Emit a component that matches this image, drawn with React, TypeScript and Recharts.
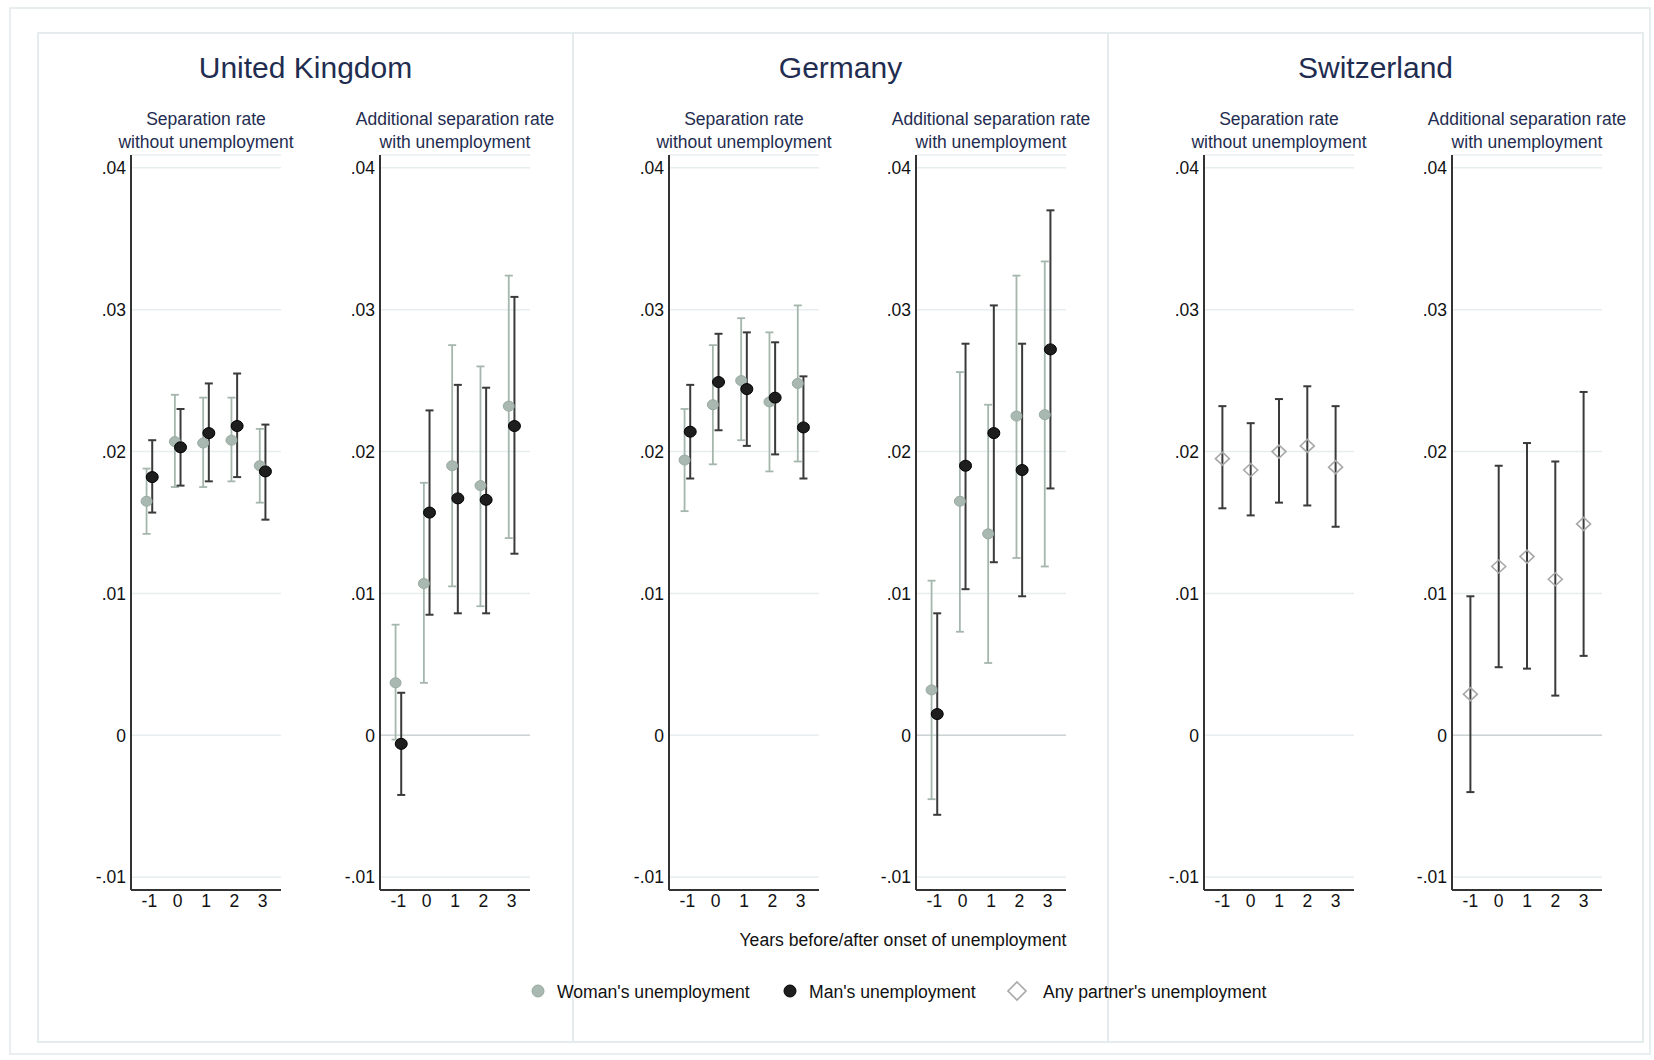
import { ScatterChart, Scatter, XAxis, YAxis, CartesianGrid, ErrorBar, ReferenceLine } from "recharts"

const years = [-1, 0, 1, 2, 3]
const yTicks = [-0.01, 0, 0.01, 0.02, 0.03, 0.04]

const countries = ["United Kingdom", "Germany", "Switzerland"]
const subtitleSep = ["Separation rate", "without unemployment"]
const subtitleAdd = ["Additional separation rate", "with unemployment"]
const legendLabels = ["Woman's unemployment", "Man's unemployment", "Any partner's unemployment"]
const xTitle = "Years before/after onset of unemployment"

// United Kingdom
const ukSepWomanEst = [0.0165, 0.0207, 0.0206, 0.0208, 0.019]
const ukSepWomanLo = [0.0142, 0.0175, 0.0175, 0.0179, 0.0164]
const ukSepWomanHi = [0.0188, 0.024, 0.0238, 0.0238, 0.0216]
const ukSepManEst = [0.0182, 0.0203, 0.0213, 0.0218, 0.0186]
const ukSepManLo = [0.0157, 0.0176, 0.0179, 0.0182, 0.0152]
const ukSepManHi = [0.0208, 0.023, 0.0248, 0.0255, 0.0219]

const ukAddWomanEst = [0.0037, 0.0107, 0.019, 0.0176, 0.0232]
const ukAddWomanLo = [-0.0003, 0.0037, 0.0105, 0.0091, 0.0139]
const ukAddWomanHi = [0.0078, 0.0178, 0.0275, 0.026, 0.0324]
const ukAddManEst = [-0.0006, 0.0157, 0.0167, 0.0166, 0.0218]
const ukAddManLo = [-0.0042, 0.0085, 0.0086, 0.0086, 0.0128]
const ukAddManHi = [0.003, 0.0229, 0.0247, 0.0245, 0.0309]

// Germany
const deSepWomanEst = [0.0194, 0.0233, 0.025, 0.0235, 0.0248]
const deSepWomanLo = [0.0158, 0.0191, 0.0208, 0.0186, 0.0193]
const deSepWomanHi = [0.023, 0.0275, 0.0294, 0.0284, 0.0303]
const deSepManEst = [0.0214, 0.0249, 0.0244, 0.0238, 0.0217]
const deSepManLo = [0.0181, 0.0215, 0.0204, 0.0198, 0.0181]
const deSepManHi = [0.0247, 0.0283, 0.0284, 0.0277, 0.0253]

const deAddWomanEst = [0.0032, 0.0165, 0.0142, 0.0225, 0.0226]
const deAddWomanLo = [-0.0045, 0.0073, 0.0051, 0.0125, 0.0119]
const deAddWomanHi = [0.0109, 0.0256, 0.0233, 0.0324, 0.0334]
const deAddManEst = [0.0015, 0.019, 0.0213, 0.0187, 0.0272]
const deAddManLo = [-0.0056, 0.0103, 0.0122, 0.0098, 0.0174]
const deAddManHi = [0.0086, 0.0276, 0.0303, 0.0276, 0.037]

// Switzerland
const chSepAnyEst = [0.0195, 0.0187, 0.02, 0.0204, 0.0189]
const chSepAnyLo = [0.016, 0.0155, 0.0164, 0.0162, 0.0147]
const chSepAnyHi = [0.0232, 0.022, 0.0237, 0.0246, 0.0232]

const chAddAnyEst = [0.0029, 0.0119, 0.0126, 0.011, 0.0149]
const chAddAnyLo = [-0.004, 0.0048, 0.0047, 0.0028, 0.0056]
const chAddAnyHi = [0.0098, 0.019, 0.0206, 0.0193, 0.0242]

const DODGE = 0.1
const PLOT_TOP = 155
const PLOT_H = 735
const PLOT_W = 150
const Y_W = 60
const M_TOP = 5
const X_H = 30

const WOMAN_FILL = "#a9b9b1"
const WOMAN_BAR = "#a5b6ad"
const MAN_FILL = "#1e1e1e"
const MAN_BAR = "#3a3a3a"
const NAVY = "#1f2d50"

function rows(est: number[], lo: number[], hi: number[], shift: number) {
  return years.map((yr, i) => ({ x: yr + shift, y: est[i], err: [est[i] - lo[i], hi[i] - est[i]] }))
}

const womanDot = (p: any) => (
  <ellipse cx={p.cx} cy={p.cy} rx={5.5} ry={5} fill={WOMAN_FILL} stroke="#98aaa1" strokeWidth={1} />
)
const manDot = (p: any) => (
  <ellipse cx={p.cx} cy={p.cy} rx={6} ry={5.5} fill={MAN_FILL} stroke="#000" strokeWidth={1} />
)
const diamond = (p: any) => (
  <polygon
    points={`${p.cx},${p.cy - 6.5} ${p.cx + 7},${p.cy} ${p.cx},${p.cy + 6.5} ${p.cx - 7},${p.cy}`}
    fill="none"
    stroke="#a8a8a8"
    strokeWidth={1.6}
  />
)

type Series = { data: any[]; shape: any; bar: string; barW: number }

function fmtY(v: number) {
  if (v === 0) return "0"
  return v.toFixed(2).replace("0.", ".")
}

function Panel({ axisX, series, zero }: { axisX: number; series: Series[]; zero?: boolean }) {
  return (
    <div style={{ position: "absolute", left: axisX - Y_W, top: PLOT_TOP - M_TOP }}>
      <ScatterChart
        width={Y_W + PLOT_W + 5}
        height={M_TOP + PLOT_H + X_H}
        margin={{ top: M_TOP, right: 5, left: 0, bottom: 0 }}
      >
        <CartesianGrid vertical={false} stroke="#e7eef0" strokeWidth={1.5} />
        <XAxis
          type="number"
          dataKey="x"
          domain={[-1.65, 3.65]}
          ticks={years}
          allowDataOverflow
          height={X_H}
          tickSize={0}
          tickMargin={5}
          axisLine={{ stroke: "#333", strokeWidth: 2 }}
          tick={{ fill: "#111", fontSize: 17.5 }}
        />
        <YAxis
          type="number"
          dataKey="y"
          domain={[-0.0109, 0.0409]}
          ticks={yTicks}
          allowDataOverflow
          width={Y_W}
          tickSize={0}
          tickMargin={5}
          tickFormatter={fmtY}
          axisLine={{ stroke: "#333", strokeWidth: 2 }}
          tick={{ fill: "#111", fontSize: 17.5 }}
        />
        {zero && <ReferenceLine y={0} stroke="#cdd4d6" strokeWidth={1.5} />}
        {series.map((s, i) => (
          <Scatter key={i} data={s.data} shape={s.shape} isAnimationActive={false}>
            <ErrorBar dataKey="err" direction="y" width={4} stroke={s.bar} strokeWidth={s.barW} />
          </Scatter>
        ))}
      </ScatterChart>
    </div>
  )
}

function pair(wEst: number[], wLo: number[], wHi: number[], mEst: number[], mLo: number[], mHi: number[]): Series[] {
  return [
    { data: rows(wEst, wLo, wHi, -DODGE), shape: womanDot, bar: WOMAN_BAR, barW: 1.8 },
    { data: rows(mEst, mLo, mHi, DODGE), shape: manDot, bar: MAN_BAR, barW: 2 },
  ]
}

const boxes = [38, 573, 1108, 1643]
const axisXs = [131, 380, 669, 916, 1204, 1452]

export default function App() {
  const panels = [
    pair(ukSepWomanEst, ukSepWomanLo, ukSepWomanHi, ukSepManEst, ukSepManLo, ukSepManHi),
    pair(ukAddWomanEst, ukAddWomanLo, ukAddWomanHi, ukAddManEst, ukAddManLo, ukAddManHi),
    pair(deSepWomanEst, deSepWomanLo, deSepWomanHi, deSepManEst, deSepManLo, deSepManHi),
    pair(deAddWomanEst, deAddWomanLo, deAddWomanHi, deAddManEst, deAddManLo, deAddManHi),
    [{ data: rows(chSepAnyEst, chSepAnyLo, chSepAnyHi, 0), shape: diamond, bar: MAN_BAR, barW: 2 }],
    [{ data: rows(chAddAnyEst, chAddAnyLo, chAddAnyHi, 0), shape: diamond, bar: MAN_BAR, barW: 2 }],
  ]

  return (
    <div
      style={{
        position: "absolute",
        left: 0,
        top: 0,
        width: 1654,
        height: 1060,
        background: "#fff",
        fontFamily: "'Liberation Sans', Arial, sans-serif",
      }}
    >
      <svg width={1654} height={1060} style={{ position: "absolute", left: 0, top: 0 }}>
        <rect x={10} y={8} width={1640} height={1046} fill="none" stroke="#e8eef0" strokeWidth={2} />
        {countries.map((c, i) => (
          <g key={c}>
            <rect
              x={boxes[i]}
              y={33}
              width={boxes[i + 1] - boxes[i]}
              height={1009}
              fill="none"
              stroke="#e4ecee"
              strokeWidth={2}
            />
            <text
              x={(boxes[i] + boxes[i + 1]) / 2}
              y={67}
              textAnchor="middle"
              dominantBaseline="central"
              fontSize={30}
              fill={NAVY}
            >
              {c}
            </text>
          </g>
        ))}
        {axisXs.map((ax, i) => {
          const lines = i % 2 === 0 ? subtitleSep : subtitleAdd
          return (
            <g key={ax}>
              {lines.map((t, j) => (
                <text
                  key={t}
                  x={ax + PLOT_W / 2}
                  y={119 + j * 23}
                  textAnchor="middle"
                  dominantBaseline="central"
                  fontSize={17.5}
                  fill={NAVY}
                >
                  {t}
                </text>
              ))}
            </g>
          )
        })}
        <text x={903} y={940} textAnchor="middle" dominantBaseline="central" fontSize={17.6} fill="#111">
          {xTitle}
        </text>
        <circle cx={538} cy={991} r={6} fill={WOMAN_FILL} stroke="#98aaa1" />
        <text x={557} y={992} dominantBaseline="central" fontSize={17.6} fill="#111">
          {legendLabels[0]}
        </text>
        <circle cx={790} cy={991} r={6} fill={MAN_FILL} stroke="#000" />
        <text x={809} y={992} dominantBaseline="central" fontSize={17.6} fill="#111">
          {legendLabels[1]}
        </text>
        <polygon points="1017,982 1026,991 1017,1000 1008,991" fill="none" stroke="#a8a8a8" strokeWidth={1.6} />
        <text x={1043} y={992} dominantBaseline="central" fontSize={17.6} fill="#111">
          {legendLabels[2]}
        </text>
      </svg>
      {panels.map((s, i) => (
        <Panel key={i} axisX={axisXs[i]} series={s} zero={i % 2 === 1} />
      ))}
    </div>
  )
}
